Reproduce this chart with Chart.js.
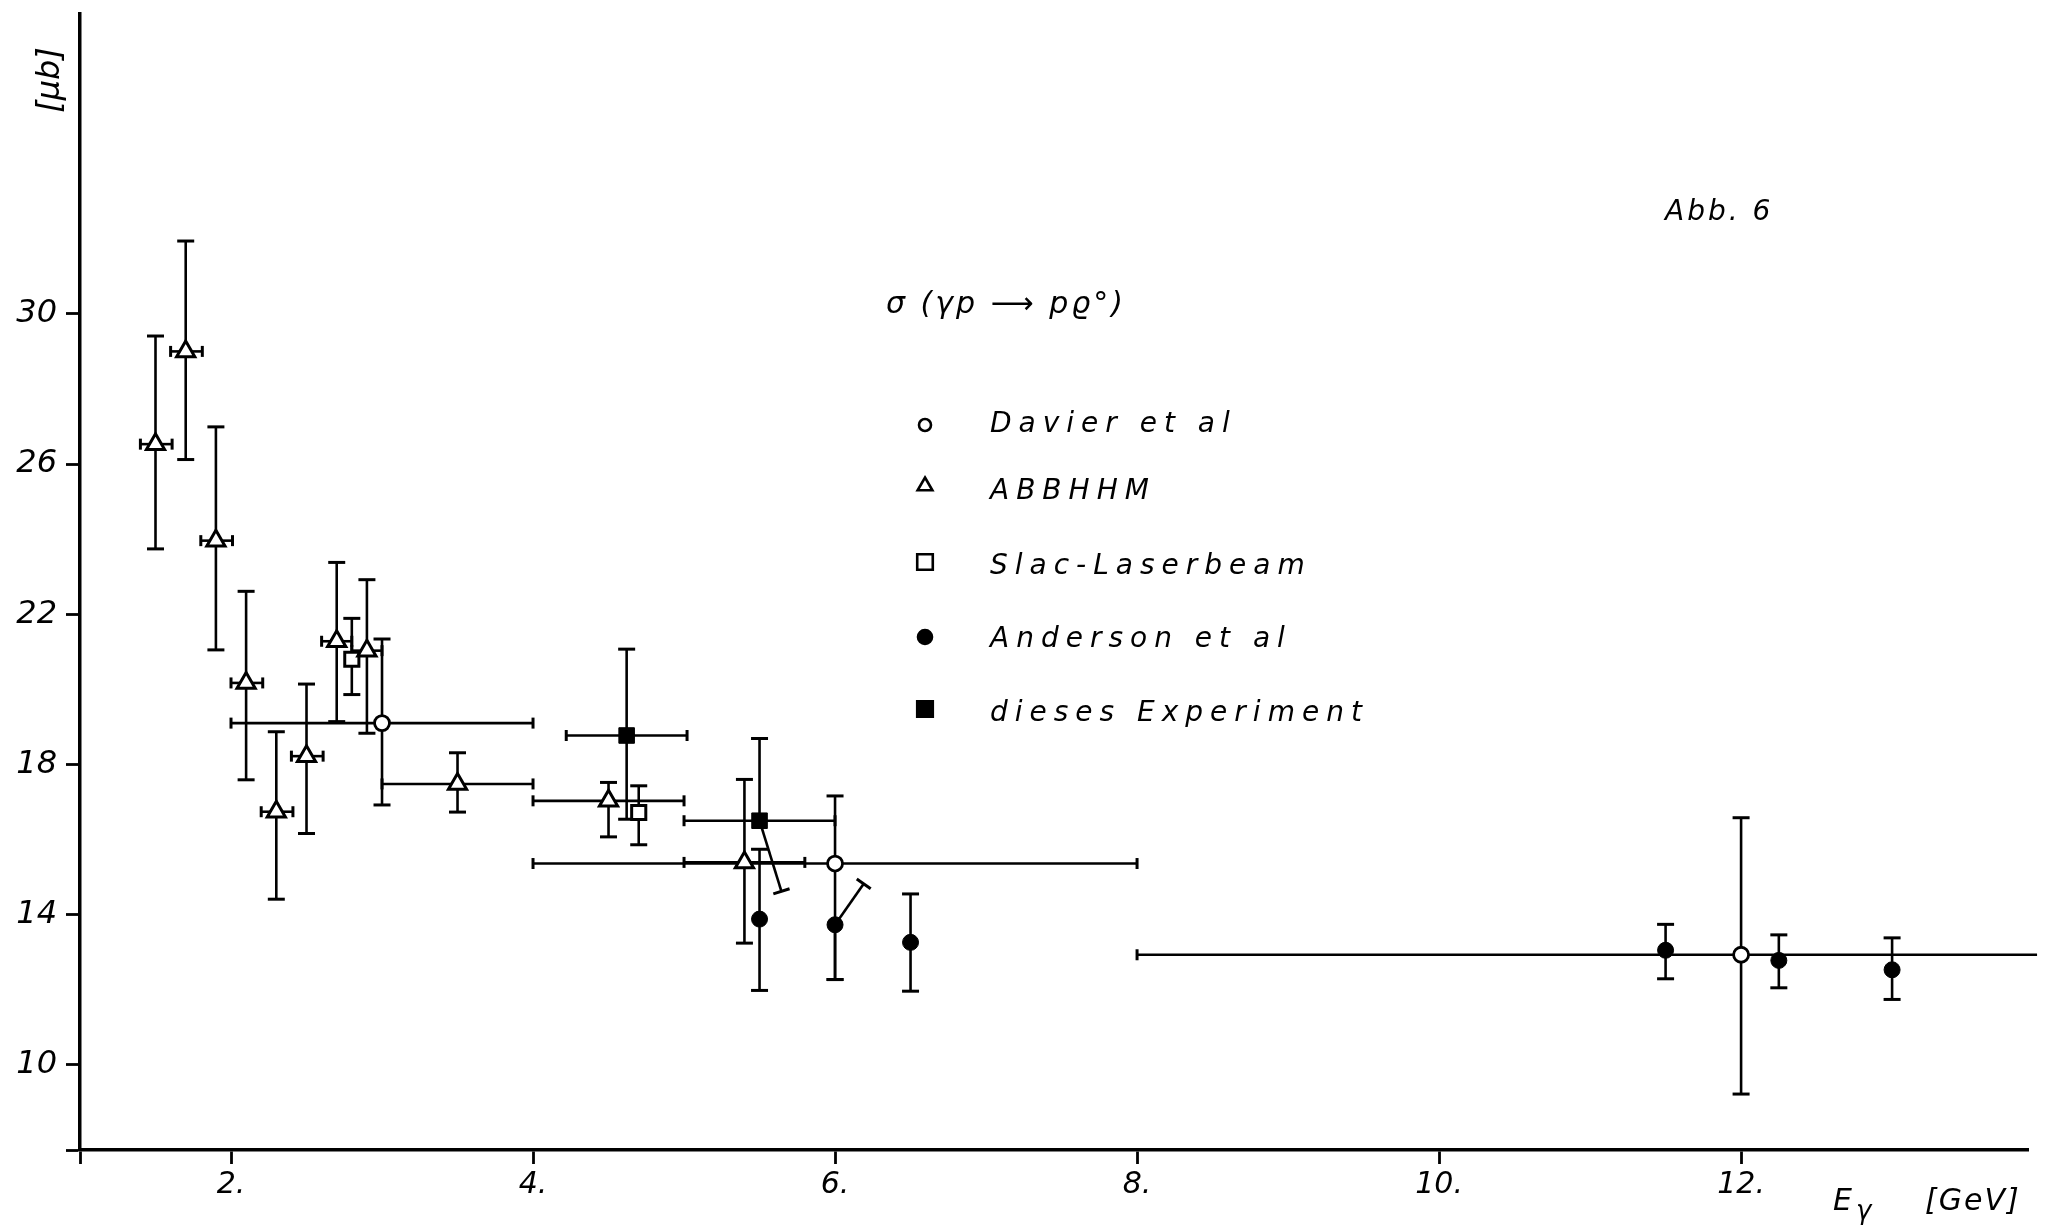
<!DOCTYPE html>
<html>
<head>
<meta charset="utf-8">
<script src="https://cdn.jsdelivr.net/npm/chart.js@4.4.0/dist/chart.umd.min.js"></script>
<style>
  html, body { margin: 0; padding: 0; background: #ffffff; }
  #wrap { width: 2051px; height: 1227px; }
  canvas { display: block; background: #ffffff; }
</style>
</head>
<body>
<div id="wrap"><canvas id="c" width="2051" height="1227"></canvas></div>
<script>
// ---------------- data ----------------
const xMin = 1.0, xMax = 13.9;
const yMin = 7.73, yMax = 38.0;
const xTickValues = [2, 4, 6, 8, 10, 12];
const xTickLabels = ['2.', '4.', '6.', '8.', '10.', '12.'];
const yTickValues = [10, 14, 18, 22, 26, 30];
const yTickLabels = ['10', '14', '18', '22', '26', '30'];

const seriesNames = ['Davier et al', 'ABBHHM', 'Slac-Laserbeam', 'Anderson et al', 'dieses Experiment'];
const legendTitle = 'σ (γp ⟶ pϱ°)';
const figureLabel = 'Abb. 6';
const yUnit = '[μb]';
const xName = 'E';
const xNameSub = 'γ';
const xUnit = '[GeV]';

// Davier et al (open circles)
const davierE = [3.0, 6.0, 12.0];
const davierSigma = [19.10, 15.36, 12.93];
const davierErrUp = [2.24, 1.80, 3.65];
const davierErrDown = [2.18, 3.09, 3.71];
const davierELow = [2.0, 4.0, 8.0];
const davierEHigh = [4.0, 8.0, 13.96];

// ABBHHM (open triangles)
const abbE = [1.5, 1.7, 1.9, 2.1, 2.3, 2.5, 2.7, 2.9, 3.5, 4.5, 5.4];
const abbSigma = [26.53, 29.00, 23.96, 20.17, 16.74, 18.22, 21.28, 21.03, 17.48, 17.03, 15.39];
const abbErrUp = [2.88, 2.94, 3.03, 2.44, 2.13, 1.92, 2.10, 1.89, 0.83, 0.49, 2.21];
const abbErrDown = [2.79, 2.88, 2.91, 2.58, 2.33, 2.06, 2.14, 2.20, 0.75, 0.96, 2.15];
const abbELow = [1.40, 1.60, 1.80, 2.00, 2.20, 2.40, 2.60, 2.80, 3.0, 4.0, 5.0];
const abbEHigh = [1.61, 1.81, 2.01, 2.21, 2.41, 2.61, 2.80, 3.00, 4.0, 5.0, 5.8];

// Slac-Laserbeam (open squares)
const slacE = [2.8, 4.7];
const slacSigma = [20.80, 16.72];
const slacErrUp = [1.09, 0.71];
const slacErrDown = [0.94, 0.86];

// Anderson et al (filled circles)
const andE = [5.5, 6.0, 6.5, 11.5, 12.25, 13.0];
const andSigma = [13.88, 13.73, 13.26, 13.05, 12.78, 12.53];
const andErrUp = [1.86, null, 1.29, 0.69, 0.68, 0.85];
const andErrDown = [1.90, 1.46, 1.30, 0.76, 0.73, 0.79];
const andUpTipE = [null, 6.19, null, null, null, null];      // slanted upper bar end
const andUpTipSigma = [null, 14.82, null, null, null, null];

// dieses Experiment (filled squares)
const expE = [4.62, 5.5];
const expSigma = [18.77, 16.50];
const expErrUp = [2.30, 2.19];
const expErrDown = [2.23, null];
const expDownTipE = [null, 5.645];                         // slanted lower bar end
const expDownTipSigma = [null, 14.62];
const expELow = [4.22, 5.0];
const expEHigh = [5.02, 6.0];

// ---------------- build point objects ----------------
function buildPoints(E, S, up, down, lo, hi, upTipE, upTipS, downTipE, downTipS) {
  return E.map((e, i) => ({
    x: e,
    y: S[i],
    yHi: up && up[i] != null ? S[i] + up[i] : null,
    yLo: down && down[i] != null ? S[i] - down[i] : null,
    xLo: lo ? lo[i] : null,
    xHi: hi ? hi[i] : null,
    upTip: upTipE && upTipE[i] != null ? { x: upTipE[i], y: upTipS[i] } : null,
    downTip: downTipE && downTipE[i] != null ? { x: downTipE[i], y: downTipS[i] } : null
  }));
}

const davierPts = buildPoints(davierE, davierSigma, davierErrUp, davierErrDown, davierELow, davierEHigh);
const abbPts = buildPoints(abbE, abbSigma, abbErrUp, abbErrDown, abbELow, abbEHigh);
const slacPts = buildPoints(slacE, slacSigma, slacErrUp, slacErrDown, null, null);
const andPts = buildPoints(andE, andSigma, andErrUp, andErrDown, null, null, andUpTipE, andUpTipSigma);
const expPts = buildPoints(expE, expSigma, expErrUp, expErrDown, expELow, expEHigh, null, null, expDownTipE, expDownTipSigma);

// ---------------- styling ----------------
const FONT = '"DejaVu Sans", "Liberation Sans", sans-serif';
const BAR_W = 2.6;
const CAP = 8.5;   // half width of y-bar caps
const XCAP = 5.5;  // half height of x-bar caps

function seg(ctx, x1, y1, x2, y2) {
  ctx.beginPath(); ctx.moveTo(x1, y1); ctx.lineTo(x2, y2); ctx.stroke();
}
function capAt(ctx, x0, y0, x1, y1, half) {
  const dx = x1 - x0, dy = y1 - y0, L = Math.hypot(dx, dy) || 1;
  const nx = -dy / L * half, ny = dx / L * half;
  ctx.save(); ctx.lineWidth = 3; seg(ctx, x1 - nx, y1 - ny, x1 + nx, y1 + ny); ctx.restore();
}

const errorBarPlugin = {
  id: 'errorBars',
  beforeDatasetsDraw(chart) {
    const { ctx, scales } = chart;
    const xs = scales.x, ys = scales.y;
    ctx.save();
    ctx.strokeStyle = '#000';
    ctx.lineWidth = BAR_W;
    ctx.lineCap = 'butt';
    chart.data.datasets.forEach(ds => {
      ds.data.forEach(p => {
        const px = xs.getPixelForValue(p.x), py = ys.getPixelForValue(p.y);
        if (p.yHi != null) { const t = ys.getPixelForValue(p.yHi); seg(ctx, px, py, px, t); capAt(ctx, px, py, px, t, CAP); }
        if (p.yLo != null) { const b = ys.getPixelForValue(p.yLo); seg(ctx, px, py, px, b); capAt(ctx, px, py, px, b, CAP); }
        if (p.upTip) { const tx = xs.getPixelForValue(p.upTip.x), ty = ys.getPixelForValue(p.upTip.y); seg(ctx, px, py, tx, ty); capAt(ctx, px, py, tx, ty, CAP); }
        if (p.downTip) { const tx = xs.getPixelForValue(p.downTip.x), ty = ys.getPixelForValue(p.downTip.y); seg(ctx, px, py, tx, ty); capAt(ctx, px, py, tx, ty, CAP); }
        if (p.xLo != null) { const l = xs.getPixelForValue(p.xLo); seg(ctx, l, py, px, py); capAt(ctx, px, py, l, py, XCAP); }
        if (p.xHi != null) { const r = xs.getPixelForValue(p.xHi); seg(ctx, px, py, r, py); if (p.xHi <= xs.max) capAt(ctx, px, py, r, py, XCAP); }
      });
    });
    ctx.restore();
  }
};

function drawMarker(ctx, style, r, x, y, fill, bw) {
  ctx.save();
  ctx.fillStyle = fill; ctx.strokeStyle = '#000'; ctx.lineWidth = bw;
  ctx.beginPath();
  if (style === 'circle') {
    ctx.arc(x, y, r, 0, Math.PI * 2);
  } else if (style === 'triangle') {
    for (let k = 0; k < 3; k++) {
      const a = -Math.PI / 2 + k * 2 * Math.PI / 3;
      const vx = x + Math.cos(a) * r, vy = y + Math.sin(a) * r;
      if (k === 0) ctx.moveTo(vx, vy); else ctx.lineTo(vx, vy);
    }
    ctx.closePath();
  } else {
    const s = r * Math.SQRT1_2;
    ctx.rect(x - s, y - s, 2 * s, 2 * s);
  }
  ctx.fill(); ctx.stroke();
  ctx.restore();
}

function spacedText(ctx, text, x, y, spacing) {
  ctx.letterSpacing = spacing + 'px';
  ctx.fillText(text, x, y);
  ctx.letterSpacing = '0px';
}

const annotationPlugin = {
  id: 'annotations',
  afterDraw(chart) {
    const { ctx } = chart;
    ctx.save();
    ctx.fillStyle = '#000';
    ctx.textBaseline = 'alphabetic';
    ctx.textAlign = 'left';

    // figure label
    ctx.font = 'italic 28px ' + FONT;
    spacedText(ctx, figureLabel, 1665, 220, 3);

    // legend title
    ctx.font = 'italic 30px ' + FONT;
    spacedText(ctx, legendTitle, 886, 313, 3);

    // legend entries
    const markerX = 925, textX = 990;
    const markerY = [425, 486, 562, 637, 709];
    const baseY = [432, 499, 574, 647, 721];
    chart.data.datasets.forEach((ds, i) => {
      drawMarker(ctx, ds.pointStyle, ds.legendRadius, markerX, markerY[i], ds.pointBackgroundColor, 2.6);
      ctx.fillStyle = '#000';
      ctx.font = 'italic 28px ' + FONT;
      spacedText(ctx, ds.label, textX, baseY[i], 7);
    });

    // y unit (rotated)
    ctx.save();
    ctx.translate(51, 80);
    ctx.rotate(-Math.PI / 2);
    ctx.textAlign = 'center';
    ctx.textBaseline = 'middle';
    ctx.font = 'italic 32px ' + FONT;
    ctx.fillText(yUnit, 0, 0);
    ctx.restore();

    // x name and unit
    ctx.font = 'italic 30px ' + FONT;
    ctx.fillText(xName, 1833, 1210);
    ctx.font = 'italic 26px ' + FONT;
    ctx.fillText(xNameSub, 1856, 1219);
    ctx.font = 'italic 30px ' + FONT;
    spacedText(ctx, xUnit, 1925, 1210, 2);
    ctx.restore();
  }
};

new Chart(document.getElementById('c'), {
  type: 'scatter',
  data: {
    datasets: [
      { label: seriesNames[0], data: davierPts, pointStyle: 'circle', pointRadius: 7.5, pointBackgroundColor: '#ffffff', pointBorderColor: '#000', pointBorderWidth: 2.8, legendRadius: 6 },
      { label: seriesNames[1], data: abbPts, pointStyle: 'triangle', pointRadius: 10.5, pointBackgroundColor: '#ffffff', pointBorderColor: '#000', pointBorderWidth: 3, legendRadius: 8.5 },
      { label: seriesNames[2], data: slacPts, pointStyle: 'rect', pointRadius: 10, pointBackgroundColor: '#ffffff', pointBorderColor: '#000', pointBorderWidth: 3, legendRadius: 11 },
      { label: seriesNames[3], data: andPts, pointStyle: 'circle', pointRadius: 8, pointBackgroundColor: '#000000', pointBorderColor: '#000', pointBorderWidth: 1, legendRadius: 7 },
      { label: seriesNames[4], data: expPts, pointStyle: 'rect', pointRadius: 11, pointBackgroundColor: '#000000', pointBorderColor: '#000', pointBorderWidth: 1, legendRadius: 11 }
    ]
  },
  options: {
    responsive: false,
    animation: false,
    devicePixelRatio: 1,
    layout: { padding: { top: 10, right: 23, left: 0, bottom: 0 } },
    plugins: { legend: { display: false }, tooltip: { enabled: false } },
    events: [],
    scales: {
      x: {
        type: 'linear',
        min: xMin, max: xMax,
        afterBuildTicks: (s) => { s.ticks = [xMin].concat(xTickValues).map(v => ({ value: v })); },
        afterFit: (s) => { s.height = 77; s.paddingLeft = 0; s.paddingRight = 0; },
        ticks: {
          autoSkip: false, maxRotation: 0, color: '#000', padding: 3,
          font: { family: FONT, size: 30, style: 'italic' },
          callback: (v) => { const i = xTickValues.indexOf(v); return i >= 0 ? xTickLabels[i] : ''; }
        },
        grid: { display: true, drawOnChartArea: false, drawTicks: true, tickLength: 14, tickWidth: 2.8, tickColor: '#000', color: '#000' },
        border: { display: true, width: 3.5, color: '#000' }
      },
      y: {
        type: 'linear',
        min: yMin, max: yMax,
        afterBuildTicks: (s) => { s.ticks = [yMin].concat(yTickValues).map(v => ({ value: v })); },
        afterFit: (s) => { s.width = 80; s.paddingTop = 0; s.paddingBottom = 0; },
        ticks: {
          autoSkip: false, color: '#000', padding: 9,
          font: { family: FONT, size: 32, style: 'italic' },
          callback: (v) => { const i = yTickValues.indexOf(v); return i >= 0 ? yTickLabels[i] : ''; }
        },
        grid: { display: true, drawOnChartArea: false, drawTicks: true, tickLength: 14, tickWidth: 2.8, tickColor: '#000', color: '#000' },
        border: { display: true, width: 3.5, color: '#000' }
      }
    }
  },
  plugins: [errorBarPlugin, annotationPlugin]
});
</script>
</body>
</html>
